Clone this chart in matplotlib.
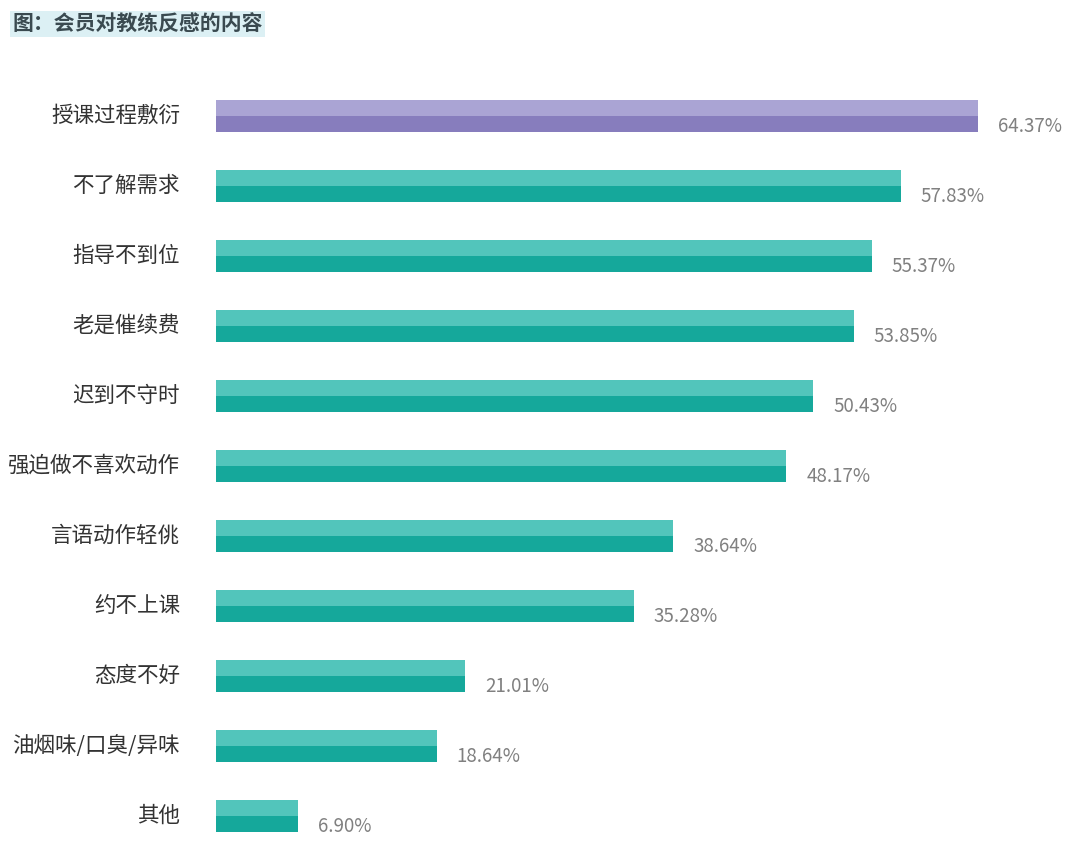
import matplotlib
matplotlib.use("Agg")
import matplotlib.pyplot as plt
from matplotlib.transforms import blended_transform_factory

plt.rcParams['font.family'] = ['Noto Sans CJK SC', 'DejaVu Sans']

categories = ["授课过程敷衍", "不了解需求", "指导不到位", "老是催续费", "迟到不守时",
              "强迫做不喜欢动作", "言语动作轻佻", "约不上课", "态度不好", "油烟味/口臭/异味", "其他"]
values = [64.37, 57.83, 55.37, 53.85, 50.43, 48.17, 38.64, 35.28, 21.01, 18.64, 6.90]

fig = plt.figure(figsize=(10.8, 8.43), dpi=100)
ax = fig.add_axes([0.2, 0, 0.8, 1])
ax.set_xlim(0, 864 / 11.84)
ax.set_ylim((843 - 116) / 70, -116 / 70)
ax.axis('off')

h = 0.23
for i, (c, v) in enumerate(zip(categories, values)):
    if i == 0:
        top, bot = "#aaa4d4", "#877dbd"
    else:
        top, bot = "#52c5bb", "#15a89b"
    ax.barh(i - h / 2, v, height=h, color=top, edgecolor='none')
    ax.barh(i + h / 2, v, height=h, color=bot, edgecolor='none')
    ax.text(v + 1.7, i + 0.15, f"{v:.2f}%", va='center', ha='left', fontsize=13.5, color='#808080')

tr = blended_transform_factory(fig.transFigure, ax.transData)
for i, c in enumerate(categories):
    ax.text(180 / 1080, i, c, transform=tr, ha='right', va='center', fontsize=15.5, color='#333333')

fig.text(12 / 1080, 1 - 24 / 843, "图：会员对教练反感的内容", fontsize=15, fontweight='bold',
         color='#3a4a50', va='center', ha='left',
         bbox=dict(boxstyle='square,pad=0.1', facecolor='#dcf0f4', edgecolor='none'))

fig.savefig("out.png", dpi=100)
